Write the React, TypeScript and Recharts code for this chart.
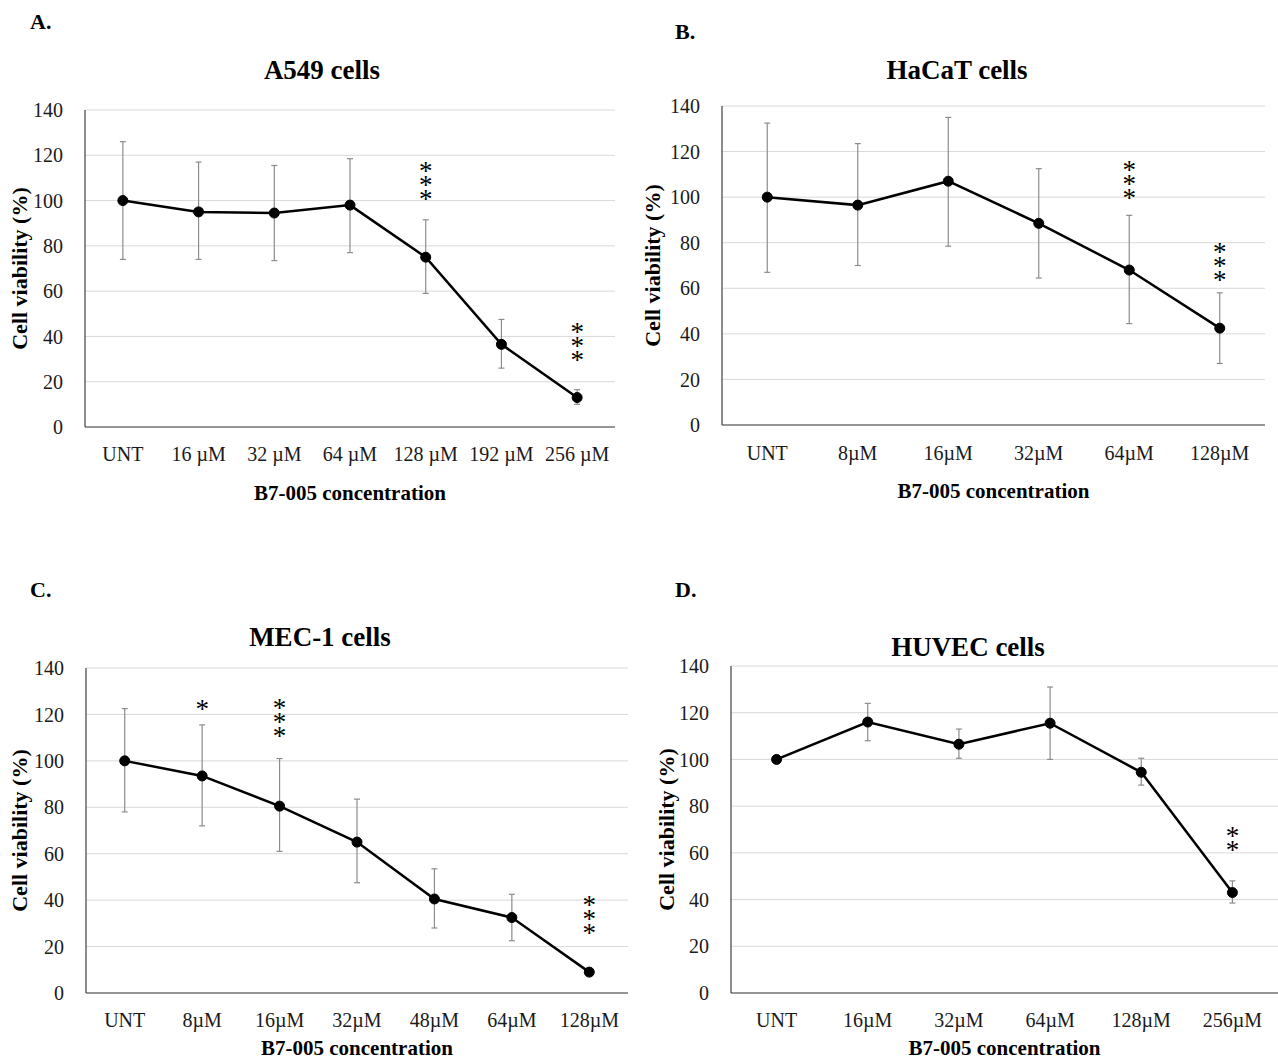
import React from 'react';
import { LineChart, Line, XAxis, YAxis, CartesianGrid, ErrorBar, LabelList, Label } from 'recharts';

const FONT = "'Liberation Serif', 'Times New Roman', serif";
const Y_TICKS = [0, 20, 40, 60, 80, 100, 120, 140];

// Panel A – A549 cells
const catsA = ['UNT', '16 µM', '32 µM', '64 µM', '128 µM', '192 µM', '256 µM'];
const meanA = [100, 95, 94.5, 98, 75, 36.5, 13];
const loA = [74, 74, 73.5, 77, 59, 26, 10];
const hiA = [126, 117, 115.5, 118.5, 91.5, 47.5, 16.5];
const sigA = ['', '', '', '', '***', '', '***'];
const sigPosA = [null, null, null, null, 108, null, 37];

// Panel B – HaCaT cells
const catsB = ['UNT', '8µM', '16µM', '32µM', '64µM', '128µM'];
const meanB = [100, 96.5, 107, 88.5, 68, 42.5];
const loB = [67, 70, 78.5, 64.5, 44.5, 27];
const hiB = [132.5, 123.5, 135, 112.5, 92, 58];
const sigB = ['', '', '', '', '***', '***'];
const sigPosB = [null, null, null, null, 107, 71];

// Panel C – MEC-1 cells
const catsC = ['UNT', '8µM', '16µM', '32µM', '48µM', '64µM', '128µM'];
const meanC = [100, 93.5, 80.5, 65, 40.5, 32.5, 9];
const loC = [78, 72, 61, 47.5, 28, 22.5, 8];
const hiC = [122.5, 115.5, 101, 83.5, 53.5, 42.5, 10];
const sigC = ['', '*', '***', '', '', '', '***'];
const sigPosC = [null, 123.5, 118, null, null, null, 33];

// Panel D – HUVEC cells
const catsD = ['UNT', '16µM', '32µM', '64µM', '128µM', '256µM'];
const meanD = [100, 116, 106.5, 115.5, 94.5, 43];
const loD = [100, 108, 100.5, 100, 89, 38.5];
const hiD = [100, 124, 113, 131, 100.5, 48];
const sigD = ['', '', '', '', '', '**'];
const sigPosD = [null, null, null, null, null, 65.5];

type Cfg = {
  letter: string; letterX: number; letterY: number;
  title: string; titleX: number; titleY: number;
  left: number; top: number; width: number; height: number;
  px0: number; px1: number; py0: number; py1: number;
  yLabelX: number; xTickY: number; xLabelY: number;
  cats: string[]; mean: number[]; lo: number[]; hi: number[];
  sig: string[]; sigPos: (number | null)[];
};

const panels: Cfg[] = [
  {
    letter: 'A.', letterX: 30, letterY: 22, title: 'A549 cells', titleX: 322, titleY: 70,
    left: 0, top: 90, width: 630, height: 420, px0: 85, px1: 615, py0: 110, py1: 427,
    yLabelX: 19, xTickY: 456, xLabelY: 493,
    cats: catsA, mean: meanA, lo: loA, hi: hiA, sig: sigA, sigPos: sigPosA,
  },
  {
    letter: 'B.', letterX: 675, letterY: 32, title: 'HaCaT cells', titleX: 957, titleY: 70,
    left: 640, top: 90, width: 638, height: 420, px0: 722, px1: 1265, py0: 106, py1: 425,
    yLabelX: 652, xTickY: 455, xLabelY: 491,
    cats: catsB, mean: meanB, lo: loB, hi: hiB, sig: sigB, sigPos: sigPosB,
  },
  {
    letter: 'C.', letterX: 30, letterY: 590, title: 'MEC-1 cells', titleX: 320, titleY: 637,
    left: 0, top: 650, width: 640, height: 409, px0: 86, px1: 628, py0: 668, py1: 993,
    yLabelX: 19, xTickY: 1022, xLabelY: 1048,
    cats: catsC, mean: meanC, lo: loC, hi: hiC, sig: sigC, sigPos: sigPosC,
  },
  {
    letter: 'D.', letterX: 675, letterY: 590, title: 'HUVEC cells', titleX: 968, titleY: 647,
    left: 640, top: 650, width: 638, height: 409, px0: 731, px1: 1278, py0: 666, py1: 993,
    yLabelX: 666, xTickY: 1022, xLabelY: 1048,
    cats: catsD, mean: meanD, lo: loD, hi: hiD, sig: sigD, sigPos: sigPosD,
  },
];

const STAR_FS = 27;
const STAR_PITCH = 11;

function Stars(p: any) {
  if (!p.value || p.x == null || p.y == null) return null;
  const s = String(p.value);
  return (
    <text
      x={p.x}
      y={p.y}
      textAnchor="middle"
      fontFamily={FONT}
      fontSize={STAR_FS}
      fill="#000"
      letterSpacing={STAR_PITCH - STAR_FS}
      style={{ writingMode: 'vertical-rl', textOrientation: 'upright' } as any}
      transform="translate(0 -5)"
    >
      {s}
    </text>
  );
}

function Panel({ cfg }: { cfg: Cfg }) {
  const data = cfg.cats.map((c, i) => ({
    cat: c,
    v: cfg.mean[i],
    err: [cfg.mean[i] - cfg.lo[i], cfg.hi[i] - cfg.mean[i]],
    sp: cfg.sigPos[i],
    st: cfg.sig[i],
  }));
  const plotW = cfg.px1 - cfg.px0;
  const bw = plotW / cfg.cats.length;
  const xAxisH = cfg.top + cfg.height - cfg.py1;
  const yAxisW = cfg.px0 - cfg.left;
  const tickMarginX = cfg.xTickY - cfg.py1 - 9;

  return (
    <>
      <div style={{ position: 'absolute', left: cfg.letterX, top: cfg.letterY - 13, fontFamily: FONT, fontWeight: 'bold', fontSize: 22, lineHeight: '26px', color: '#000' }}>
        {cfg.letter}
      </div>
      <div style={{ position: 'absolute', left: cfg.titleX - 150, width: 300, textAlign: 'center', top: cfg.titleY - 16, fontFamily: FONT, fontWeight: 'bold', fontSize: 27, lineHeight: '32px', color: '#000' }}>
        {cfg.title}
      </div>
      <div style={{ position: 'absolute', left: cfg.left, top: cfg.top }}>
        <LineChart
          width={cfg.width}
          height={cfg.height}
          data={data}
          margin={{ top: cfg.py0 - cfg.top, right: cfg.left + cfg.width - cfg.px1, bottom: 0, left: 0 }}
        >
          <CartesianGrid vertical={false} stroke="#d9d9d9" strokeWidth={1} />
          <XAxis
            dataKey="cat"
            height={xAxisH}
            interval={0}
            tickLine={false}
            tickSize={0}
            tickMargin={tickMarginX}
            padding={{ left: bw / 2, right: bw / 2 }}
            axisLine={{ stroke: '#404040', strokeWidth: 1.2 }}
            tick={{ fontFamily: FONT, fontSize: 20, fill: '#1a1a1a' }}
          >
            <Label
              content={() => (
                <text
                  x={(cfg.px0 + cfg.px1) / 2 - cfg.left}
                  y={cfg.xLabelY - cfg.top + 7}
                  textAnchor="middle"
                  fontFamily={FONT}
                  fontWeight="bold"
                  fontSize={21}
                  fill="#000"
                >
                  B7-005 concentration
                </text>
              )}
            />
          </XAxis>
          <YAxis
            width={yAxisW}
            domain={[0, 140]}
            ticks={Y_TICKS}
            interval={0}
            tickLine={false}
            tickSize={0}
            tickMargin={22}
            axisLine={{ stroke: '#404040', strokeWidth: 1.2 }}
            tick={{ fontFamily: FONT, fontSize: 20, fill: '#1a1a1a' }}
          >
            <Label
              content={() => {
                const x = cfg.yLabelX - cfg.left;
                const y = (cfg.py0 + cfg.py1) / 2 - cfg.top;
                return (
                  <text
                    x={x}
                    y={y}
                    transform={`rotate(-90 ${x} ${y})`}
                    textAnchor="middle"
                    dominantBaseline="central"
                    fontFamily={FONT}
                    fontWeight="bold"
                    fontSize={22}
                    fill="#000"
                  >
                    Cell viability (%)
                  </text>
                );
              }}
            />
          </YAxis>
          <Line
            dataKey="v"
            stroke="#000"
            strokeWidth={2.5}
            dot={{ r: 5, fill: '#000', stroke: '#000', strokeWidth: 1 }}
            activeDot={false}
            isAnimationActive={false}
          >
            <ErrorBar dataKey="err" direction="y" width={3} stroke="#8c8c8c" strokeWidth={1.2} />
          </Line>
          <Line
            dataKey="sp"
            stroke="none"
            dot={false}
            activeDot={false}
            isAnimationActive={false}
            connectNulls={false}
          >
            <LabelList dataKey="st" content={Stars} />
          </Line>
        </LineChart>
      </div>
    </>
  );
}

export default function App() {
  return (
    <div style={{ position: 'absolute', left: 0, top: 0, width: 1278, height: 1059, background: '#fff', overflow: 'hidden' }}>
      {panels.map((p) => (
        <Panel key={p.letter} cfg={p} />
      ))}
    </div>
  );
}
